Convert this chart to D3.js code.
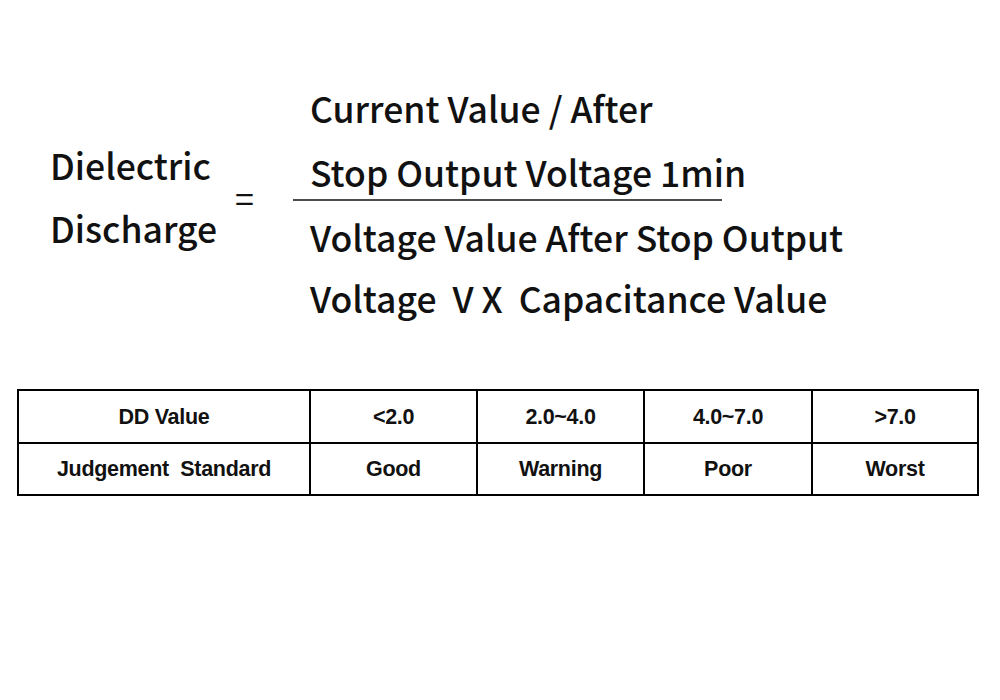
<!DOCTYPE html>
<html><head><meta charset="utf-8">
<script src="https://cdn.jsdelivr.net/npm/d3@7"></script>
<style>body{margin:0;background:#fff}</style>
</head><body>
<svg id="c" width="1000" height="700"></svg>
<script>
const leftLabel = ["Dielectric", "Discharge"];
const numerator = ["Current Value / After", "Stop Output Voltage 1min"];
const denominator = ["Voltage Value After Stop Output", "Voltage  V X  Capacitance Value"];
const rowHeaders = ["DD Value", "Judgement  Standard"];
const ddRanges = ["<2.0", "2.0~4.0", "4.0~7.0", ">7.0"];
const judgements = ["Good", "Warning", "Poor", "Worst"];

const svg = d3.select("#c");
svg.append("rect").attr("width",1000).attr("height",700).attr("fill","#fff");
const big = "'Noto Sans CJK SC','Noto Sans',sans-serif";
function lines(arr, x, ys){
  svg.selectAll(null).data(arr).enter().append("text")
    .attr("x", x).attr("y", (d,i)=>ys[i]).text(d=>d)
    .attr("font-family", big).attr("font-size", 35.5).attr("font-weight",500).attr("fill","#111")
    .attr("xml:space","preserve");
}
lines(leftLabel, 50, [180, 243]);
lines(numerator, 310, [123, 187]);
lines(denominator, 310, [252, 313]);
svg.append("text").attr("x",235).attr("y",212).text("=").attr("font-family",big).attr("font-size",34).attr("fill","#111");
svg.append("line").attr("x1",293).attr("x2",722).attr("y1",200).attr("y2",200).attr("stroke","#111").attr("stroke-width",1.5);

// table
const colEdges = [18, 310, 477, 644, 812, 978];
const rowEdges = [390, 443, 495];
const rows = [[rowHeaders[0], ...ddRanges], [rowHeaders[1], ...judgements]];
const g = svg.append("g");
g.append("rect").attr("x",colEdges[0]).attr("y",rowEdges[0])
  .attr("width",colEdges[5]-colEdges[0]).attr("height",rowEdges[2]-rowEdges[0])
  .attr("fill","none").attr("stroke","#000").attr("stroke-width",2);
g.selectAll(null).data(colEdges.slice(1,-1)).enter().append("line")
  .attr("x1",d=>d).attr("x2",d=>d).attr("y1",rowEdges[0]).attr("y2",rowEdges[2]).attr("stroke","#000").attr("stroke-width",2);
g.append("line").attr("x1",colEdges[0]).attr("x2",colEdges[5]).attr("y1",rowEdges[1]).attr("y2",rowEdges[1]).attr("stroke","#000").attr("stroke-width",2);
rows.forEach((r,ri)=>{
  g.selectAll(null).data(r).enter().append("text")
    .attr("x",(d,i)=>(colEdges[i]+colEdges[i+1])/2)
    .attr("y",(rowEdges[ri]+rowEdges[ri+1])/2+7)
    .attr("text-anchor","middle").text(d=>d)
    .attr("font-family","'Liberation Sans',Arial,sans-serif").attr("font-weight","bold")
    .attr("font-size",21.5).attr("letter-spacing",-0.3).attr("fill","#111")
    .attr("xml:space","preserve");
});
</script>
</body></html>
